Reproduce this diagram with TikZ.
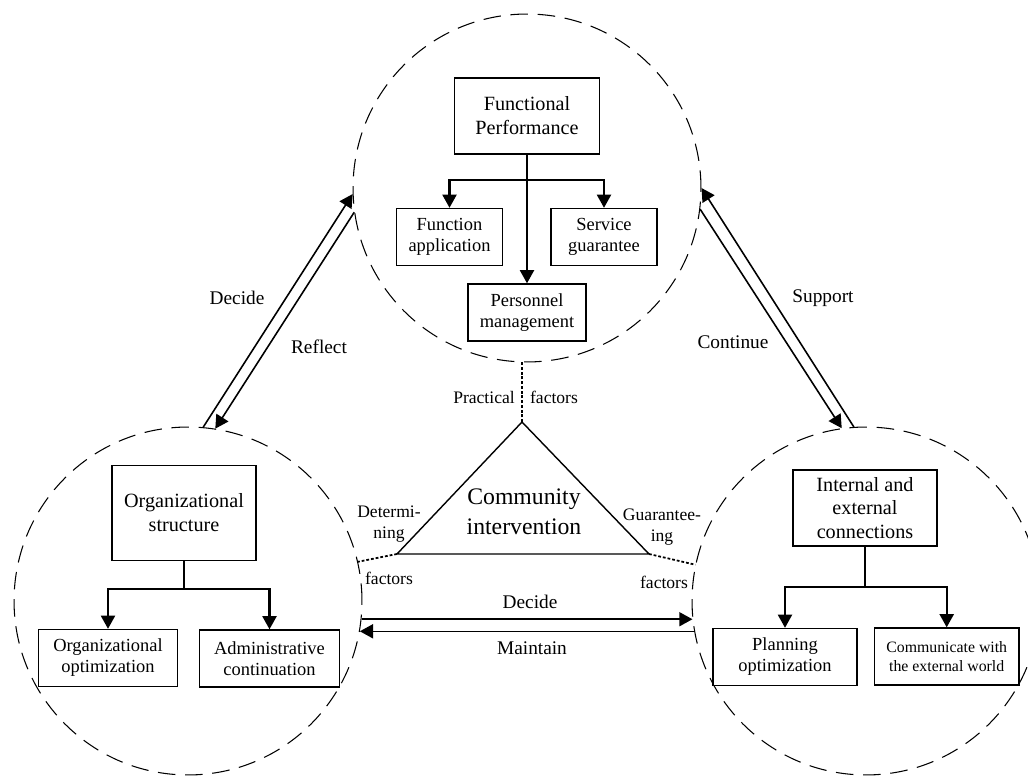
\documentclass[tikz,border=0pt]{standalone}
\usepackage{fontspec}
\setmainfont{Liberation Serif}
\usetikzlibrary{arrows.meta, calc}
\tikzset{>={Triangle[length=7.5pt,width=8pt]}}

\begin{document}
\begin{tikzpicture}[x=0.02cm, y=-0.02cm,
    zone/.style={circle, draw, dash pattern=on 10pt off 5.5pt, line width=0.6pt, minimum size=6.96cm, inner sep=0pt},
    mainbox/.style={draw, line width=0.8pt, align=center, font=\fontsize{11.5}{13.6}\selectfont, inner sep=2pt},
    subbox/.style={draw, line width=0.8pt, align=center, font=\fontsize{10.5}{12}\selectfont, minimum height=1.14cm, inner sep=2pt},
    branch/.style={->, line width=1.2pt},
    flow/.style={->, line width=0.9pt},
    tag/.style={font=\fontsize{11}{13}\selectfont},
    small/.style={font=\fontsize{10}{11.5}\selectfont, align=center},
    link/.style={dash pattern=on 1.6pt off 1.1pt, line width=1pt}]
                \useasboundingbox (0,0) rectangle (1028,776);

                \node[zone] (topzone) at (527,188) {};
                \node[zone] (leftzone) at (188,601) {};
                \node[zone] (rightzone) at (866,601) {};

                % functional performance
                \node[mainbox, minimum width=2.9cm, minimum height=1.52cm] (func) at (527,116) {Functional\\Performance};
                \node[subbox, minimum width=2.12cm] (funcapp) at (449.5,237) {Function\\application};
                \node[subbox, minimum width=2.12cm] (service) at (604,237) {Service\\guarantee};
                \node[subbox, minimum width=2.36cm] (personnel) at (527,312.5) {Personnel\\management};
                \coordinate (fsplit) at (527,180);
                \draw[branch] (func.south) -- (personnel.north);
                \draw[branch] (fsplit) -| (funcapp.north);
                \draw[branch] (fsplit) -| (service.north);

                % organizational structure
                \node[mainbox, minimum width=2.88cm, minimum height=1.9cm] (orgstruct) at (184,513) {Organizational\\structure};
                \node[subbox, minimum width=2.78cm] (orgopt) at (108,658) {Organizational\\optimization};
                \node[subbox, minimum width=2.8cm] (admin) at (269.5,658.5) {Administrative\\continuation};
                \coordinate (osplit) at (184,589);
                \draw[line width=1.2pt] (orgstruct.south) -- (osplit);
                \draw[branch] (osplit) -| (orgopt.north);
                \draw[branch] (osplit) -| (admin.north);

                % connections
                \node[mainbox, minimum width=2.88cm, minimum height=1.52cm] (conn) at (865,508) {Internal and\\external\\connections};
                \node[subbox, minimum width=2.88cm] (planning) at (785,657) {Planning\\optimization};
                \node[subbox, minimum width=2.9cm, font=\fontsize{9}{11}\selectfont] (external) at (946.7,656.5) {Communicate with\\the external world};
                \coordinate (csplit) at (865,587);
                \draw[line width=1.2pt] (conn.south) -- (csplit);
                \draw[branch] (csplit) -| (planning.north);
                \draw[branch] (csplit) -| (external.north);

                % community intervention
                \coordinate (apex) at (522,422);
                \coordinate (baseL) at (397,554);
                \coordinate (baseR) at (649,554);
                \draw[line width=0.8pt] (apex) -- (baseL) -- (baseR) -- cycle;
                \node[font=\fontsize{13.5}{17}\selectfont, align=center] (community) at (524,512) {Community\\intervention};

                \draw[link] (apex) -- (apex |- topzone.south);
                \draw[link] (baseL) -- (leftzone.13);
                \draw[link] (baseR) -- (rightzone.168);

                \node[small] (practical) at (484,397) {Practical};
                \node[small] (practicalf) at (554,397) {factors};
                \node[small] (determining) at (389,524) {Determi-\\ning};
                \node[small] (determiningf) at (389,578) {factors};
                \node[small] (guaranteeing) at (662,527) {Guarantee-\\ing};
                \node[small] (guaranteeingf) at (664,582) {factors};

                \draw[flow] (leftzone.85) -- (topzone.182);
                \draw[flow] (topzone.188) -- (leftzone.81);
                \draw[flow] (rightzone.94) -- (topzone.0);
                \draw[flow] (topzone.353) -- (rightzone.98);
                \draw[flow] (leftzone.354) -- (rightzone.186);
                \draw[flow] (rightzone.190) -- (leftzone.350);

                \node[tag] (decideL) at (237,298) {Decide};
                \node[tag] (reflect) at (319,347) {Reflect};
                \node[tag] (support) at (823,298) {Support};
                \node[tag] (continue) at (733,342) {Continue};
                \node[tag] (decideB) at (530,602) {Decide};
                \node[tag] (maintain) at (532,648) {Maintain};
            \end{tikzpicture}
\end{document}
